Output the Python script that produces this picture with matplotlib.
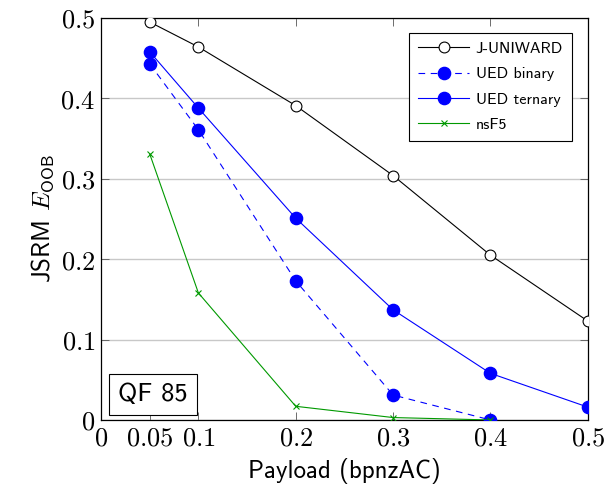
import matplotlib
matplotlib.use("Agg")
import matplotlib.pyplot as plt

payload = [0.05, 0.1, 0.2, 0.3, 0.4, 0.5]
juniward = [0.495, 0.464, 0.391, 0.304, 0.205, 0.123]
ued_binary_x = [0.05, 0.1, 0.2, 0.3, 0.4]
ued_binary = [0.443, 0.361, 0.173, 0.031, 0.0]
ued_ternary = [0.458, 0.388, 0.251, 0.137, 0.058, 0.016]
nsf5_x = [0.05, 0.1, 0.2, 0.3, 0.4]
nsf5 = [0.331, 0.158, 0.017, 0.003, 0.0]
xticks = [0, 0.05, 0.1, 0.2, 0.3, 0.4, 0.5]
xticklabels = ["0", "0.05", "0.1", "0.2", "0.3", "0.4", "0.5"]
yticks = [0, 0.1, 0.2, 0.3, 0.4, 0.5]
yticklabels = ["0", "0.1", "0.2", "0.3", "0.4", "0.5"]

plt.rcParams['mathtext.fontset'] = 'cm'
plt.rcParams['axes.formatter.use_mathtext'] = True
SANS = 'cmss10'

fig = plt.figure(figsize=(6.06, 4.97), dpi=100)
ax = fig.add_axes([0.1667, 0.155, 0.8033, 0.8088])

ax.plot(payload, juniward, color='black', lw=0.8, marker='o', ms=7.8,
        mfc='white', mec='black', mew=0.8, label='J-UNIWARD', zorder=3)
ax.plot(ued_binary_x, ued_binary, color='blue', lw=0.8, ls=(0, (6, 5)), marker='o', ms=8.8,
        mfc='blue', mec='blue', label='UED binary', zorder=3)
ax.plot(payload, ued_ternary, color='blue', lw=0.8, marker='o', ms=8.8,
        mfc='blue', mec='blue', label='UED ternary', zorder=3)
ax.plot(nsf5_x, nsf5, color='#009900', lw=0.8, marker='x', ms=5, mew=0.8,
        label='nsF5', zorder=4)

ax.set_xlim(0, 0.5)
ax.set_ylim(0, 0.5)
ax.set_xticks(xticks)
ax.set_xticklabels(["$" + t + "$" for t in xticklabels], fontsize=19)
ax.set_yticks(yticks)
ax.set_yticklabels(["$" + t + "$" for t in yticklabels], fontsize=19)
ax.tick_params(direction='in', length=6, width=0.6, color='#555555',
               top=True, right=True, pad=4)
ax.yaxis.grid(True, color='#c8c8c8', lw=1.0)
ax.set_axisbelow(True)
for s in ax.spines.values():
    s.set_linewidth(0.9)

ax.set_xlabel('Payload (bpnzAC)', fontsize=18, family=SANS, labelpad=5)
ax.set_ylabel(r'JSRM $E_{\mathsf{OOB}}$', fontsize=18, family=SANS, labelpad=3)

leg = ax.legend(loc='upper right', bbox_to_anchor=(0.967, 0.963), borderaxespad=0,
                prop={'family': SANS, 'size': 11.5},
                frameon=True, fancybox=False, edgecolor='black', framealpha=1,
                borderpad=0.55, handlelength=3.2, handletextpad=0.4, labelspacing=0.7)
leg.get_frame().set_linewidth(0.8)

ax.text(0.035, 0.035, 'QF 85', transform=ax.transAxes, fontsize=19, family=SANS,
        va='bottom', ha='left',
        bbox=dict(boxstyle='square,pad=0.35', fc='white', ec='black', lw=0.8))

fig.savefig('out.png', dpi=100)
